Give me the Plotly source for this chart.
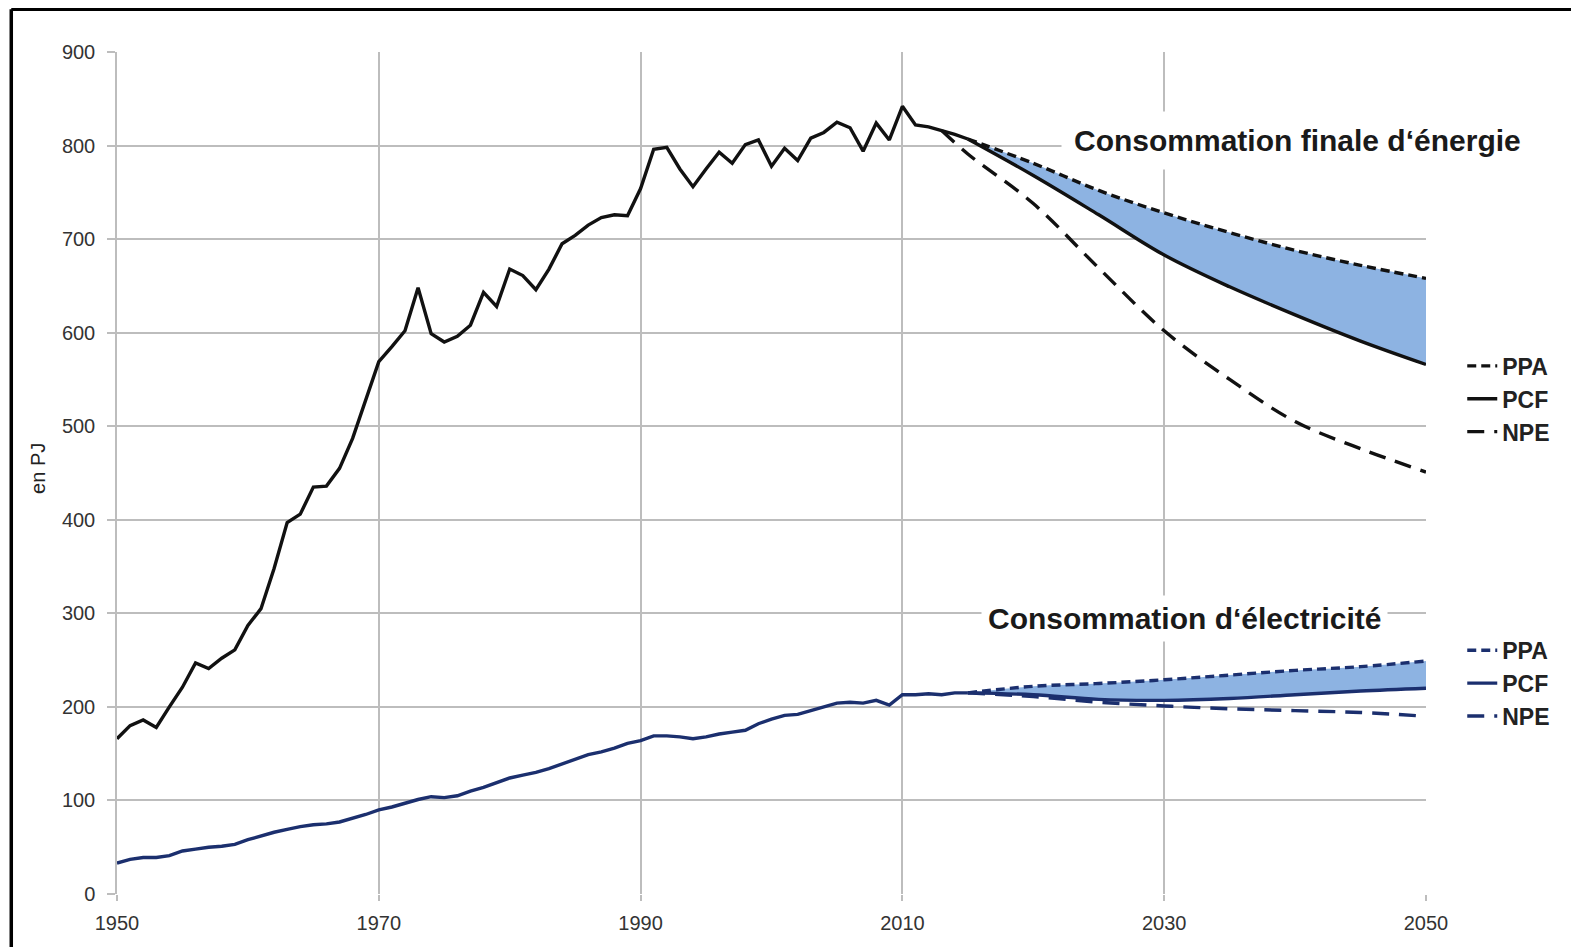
import plotly.graph_objects as go

# ---------------- data ----------------
hist_years = list(range(1950, 2016))
energie_hist = [166, 180, 186, 178, 200, 221, 247, 241, 252, 261,
                287, 305, 348, 397, 406, 435, 436, 455, 487, 527,
                569, 585, 602, 648, 599, 590, 596, 608, 643, 628,
                668, 661, 646, 668, 695, 704, 715, 723, 726, 725,
                754, 796, 798, 775, 756, 775, 793, 781, 801, 806,
                778, 797, 784, 808, 814, 825, 819, 794, 824, 806,
                842, 822, 820, 816, 812, 807]
elec_hist = [33, 37, 39, 39, 41, 46, 48, 50, 51, 53,
             58, 62, 66, 69, 72, 74, 75, 77, 81, 85,
             90, 93, 97, 101, 104, 103, 105, 110, 114, 119,
             124, 127, 130, 134, 139, 144, 149, 152, 156, 161,
             164, 169, 169, 168, 166, 168, 171, 173, 175, 182,
             187, 191, 192, 196, 200, 204, 205, 204, 207, 202,
             213, 213, 214, 213, 215, 215]

proj_years = [2015, 2020, 2025, 2030, 2035, 2040, 2045, 2050]
energie_ppa = [807, 781, 752, 728, 707, 688, 672, 658]
energie_pcf = [807, 768, 726, 683, 649, 619, 591, 566]
npe_years = [2013, 2015, 2020, 2025, 2030, 2035, 2040, 2045, 2050]
energie_npe = [816, 791, 738, 669, 602, 550, 505, 476, 451]

elec_ppa = [215, 222, 225, 229, 234, 239, 243, 249]
elec_pcf = [215, 213, 208, 207, 209, 213, 217, 220]
elec_npe = [215, 211, 205, 201, 198, 196, 194, 190]

x_ticks = [1950, 1970, 1990, 2010, 2030, 2050]
y_ticks = [0, 100, 200, 300, 400, 500, 600, 700, 800, 900]

scenario_names = ["PPA", "PCF", "NPE"]
title_energie = "Consommation finale d\u2018énergie"
title_elec = "Consommation d\u2018électricité"
y_title = "en PJ"

# ---------------- styles ----------------
BLACK = "#111111"
NAVY = "#1b2f6e"
FILL = "#8DB3E2"
GRID = "#bdbdbd"
DASH_SHORT = "9px,5px"
DASH_LONG = "17px,10px"
LW = 3.4

fig = go.Figure()

# fills between PPA and PCF
for pcf, ppa in [(energie_pcf, energie_ppa), (elec_pcf, elec_ppa)]:
    fig.add_trace(go.Scatter(x=proj_years, y=pcf, mode="lines",
                             line=dict(width=0, shape="spline"),
                             showlegend=False, hoverinfo="skip"))
    fig.add_trace(go.Scatter(x=proj_years, y=ppa, mode="lines", fill="tonexty",
                             fillcolor=FILL, line=dict(width=0, shape="spline"),
                             showlegend=False, hoverinfo="skip"))

# historical lines
fig.add_trace(go.Scatter(x=hist_years, y=energie_hist, mode="lines",
                         line=dict(color=BLACK, width=LW), showlegend=False))
fig.add_trace(go.Scatter(x=hist_years, y=elec_hist, mode="lines",
                         line=dict(color=NAVY, width=LW), showlegend=False))

# scenario lines
groups = [
    (energie_ppa, energie_pcf, npe_years, energie_npe, BLACK, "legend"),
    (elec_ppa, elec_pcf, proj_years, elec_npe, NAVY, "legend2"),
]
for ppa, pcf, nyears, npe, col, lg in groups:
    fig.add_trace(go.Scatter(x=proj_years, y=ppa, mode="lines", name=scenario_names[0],
                             line=dict(color=col, width=LW, dash=DASH_SHORT, shape="spline"),
                             legend=lg))
    fig.add_trace(go.Scatter(x=proj_years, y=pcf, mode="lines", name=scenario_names[1],
                             line=dict(color=col, width=LW, shape="spline"),
                             legend=lg))
    fig.add_trace(go.Scatter(x=nyears, y=npe, mode="lines", name=scenario_names[2],
                             line=dict(color=col, width=LW, dash=DASH_LONG, shape="spline"),
                             legend=lg))

# page has an 8px body margin and is shown at ~0.993 scale
W, H = 1570, 944
ML, MT = 109, 44
PW_CSS, PH_CSS = 1309, 842
PW, PH = 1300, 835  # on-screen plot size used for paper-coordinate placement

legend_font = dict(family="Liberation Sans", size=23, color="#222222", weight="bold")
tick_font = dict(family="Liberation Sans", size=20, color="#333333")
fig.update_layout(
    width=W, height=H,
    margin=dict(l=ML, r=W - ML - PW_CSS, t=MT, b=H - MT - PH_CSS),
    paper_bgcolor="white", plot_bgcolor="white",
    xaxis=dict(range=[1950, 2050], tickvals=x_ticks, ticktext=[str(v) for v in x_ticks],
               showgrid=True, gridcolor=GRID, gridwidth=1.5,
               ticks="outside", ticklen=6, tickcolor=GRID, tickwidth=1.5,
               tickfont=tick_font, ticklabelstandoff=5,
               zeroline=False, showline=False),
    yaxis=dict(range=[0, 900], tickvals=y_ticks,
               showgrid=True, gridcolor=GRID, gridwidth=1.5,
               ticks="outside", ticklen=8, tickcolor=GRID, tickwidth=1.5,
               tickfont=tick_font, ticklabelstandoff=8,
               zeroline=False, showline=True, linecolor=GRID, linewidth=1.5),
    legend=dict(x=(1452 - 116) / PW, y=(887 - 396) / PH, xanchor="left", yanchor="middle",
                font=legend_font, bgcolor="rgba(0,0,0,0)", tracegroupgap=0,
                traceorder="normal"),
    legend2=dict(x=(1452 - 116) / PW, y=(887 - 678) / PH, xanchor="left", yanchor="middle",
                 font=legend_font, bgcolor="rgba(0,0,0,0)", tracegroupgap=0,
                 traceorder="normal"),
    showlegend=True,
)

fig.add_annotation(x=2022.1, y=805, xref="x", yref="y", text=title_energie,
                   showarrow=False, xanchor="left", yanchor="middle",
                   font=dict(family="Liberation Sans", size=30, color="#1a1a1a", weight="bold"),
                   bgcolor="white", borderpad=12)
fig.add_annotation(x=2016.0, y=295, xref="x", yref="y", text=title_elec,
                   showarrow=False, xanchor="left", yanchor="middle",
                   font=dict(family="Liberation Sans", size=30, color="#1a1a1a", weight="bold"),
                   bgcolor="white", borderpad=6)
fig.add_annotation(x=(38 - 116) / PW, y=(887 - 465) / PH, xref="paper", yref="paper", text=y_title,
                   showarrow=False, textangle=-90, xanchor="center", yanchor="middle",
                   font=dict(family="Liberation Sans", size=20, color="#222222"))

# outer frame
fig.add_shape(type="line", xref="paper", yref="paper",
              x0=(11 - 116) / PW, x1=(11 - 116) / PW, y0=(887 - 960) / PH, y1=(887 - 9.5) / PH,
              line=dict(color="black", width=3.5))
fig.add_shape(type="line", xref="paper", yref="paper",
              x0=(11 - 116) / PW, x1=(1600 - 116) / PW, y0=(887 - 9.5) / PH, y1=(887 - 9.5) / PH,
              line=dict(color="black", width=3.5))

fig.write_html("out.html")
